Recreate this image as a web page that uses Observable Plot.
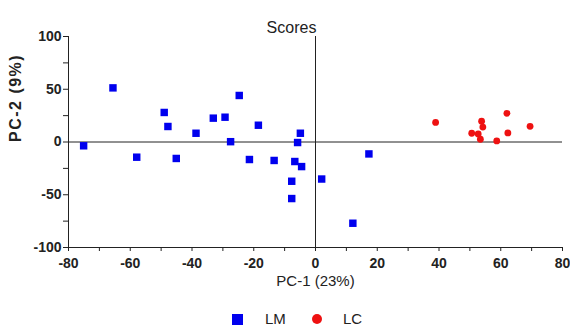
<!DOCTYPE html>
<html>
<head>
<meta charset="utf-8">
<script src="https://cdn.jsdelivr.net/npm/d3@7"></script>
<script src="https://cdn.jsdelivr.net/npm/@observablehq/plot@0.6"></script>
<style>
  html, body { margin: 0; padding: 0; background: #fff; }
  body { width: 570px; height: 327px; overflow: hidden; font-family: "Liberation Sans", Arial, sans-serif; }
  #legend { position: relative; height: 31px; width: 570px; }
  #legend .sym { position: absolute; }
  #legend .lab { position: absolute; font-size: 15px; color: #222; line-height: 16px; }
</style>
</head>
<body>
<div id="chart"></div>
<div id="legend"></div>
<script>
// ---- data ----
const groups = ["LM", "LC"];
const groupColors = ["#0000ee", "#ee1111"];

const lmX = [-75.1, -65.6, -57.9, -49.0, -47.8, -45.1, -38.7, -33.1, -29.3, -27.5, -24.7, -21.4, -18.5, -13.4, -7.7, -7.7, -6.7, -5.8, -4.9, -4.5, 2.0, 12.1, 17.3];
const lmY = [-3.6, 51.3, -14.4, 28.0, 14.7, -15.6, 8.3, 22.6, 23.5, 0.3, 44.1, -16.6, 15.9, -17.5, -37.2, -53.6, -18.5, -0.5, 8.3, -23.3, -35.1, -77.0, -11.3];

const lcX = [38.9, 50.6, 52.7, 53.8, 54.2, 53.4, 58.7, 62.0, 62.3, 69.5];
const lcY = [18.6, 8.3, 7.7, 19.7, 14.1, 2.6, 1.0, 27.2, 8.6, 14.9];

const xDomain = [-80, 80];
const yDomain = [-100, 100];
const xTicks = [-80, -70, -60, -50, -40, -30, -20, -10, 0, 10, 20, 30, 40, 50, 60, 70, 80];
const xTickLabels = [-80, -60, -40, -20, 0, 20, 40, 60, 80];
const yTicks = [-100, -75, -50, -25, 0, 25, 50, 75, 100];
const yTickLabels = [-100, -50, 0, 50, 100];
const zeroLines = [0];

const titleText = "Scores";
const xLabel = "PC-1 (23%)";
const yLabel = "PC-2 (9%)";

// ---- build rows ----
const lm = lmX.map((x, i) => ({x, y: lmY[i], group: groups[0]}));
const lc = lcX.map((x, i) => ({x, y: lcY[i], group: groups[1]}));

const ink = "#222";

const chart = Plot.plot({
  width: 570,
  height: 296,
  marginLeft: 68,
  marginRight: 8,
  marginTop: 36,
  marginBottom: 49,
  style: {fontFamily: "'Liberation Sans', Arial, sans-serif", background: "#fff", color: ink},
  x: {domain: xDomain},
  y: {domain: yDomain},
  marks: [
    Plot.axisX({
      ticks: xTicks, tickSize: 4, tickPadding: 7, label: null,
      tickFormat: d => xTickLabels.includes(d) ? String(d) : "",
      fontSize: 14, fontWeight: "bold", stroke: ink, fill: ink
    }),
    Plot.axisY({
      ticks: yTicks, tickSize: 5, tickPadding: 2, label: null,
      tickFormat: d => yTickLabels.includes(d) ? String(d) : "",
      fontSize: 14, fontWeight: "bold", stroke: ink, fill: ink
    }),
    Plot.ruleX([xDomain[0]], {stroke: ink}),
    Plot.ruleY([yDomain[0]], {stroke: ink}),
    Plot.ruleX(zeroLines, {stroke: ink}),
    Plot.ruleY(zeroLines, {stroke: ink}),
    Plot.dot(lm, {x: "x", y: "y", symbol: "square", r: 4.2, fill: groupColors[0]}),
    Plot.dot(lc, {x: "x", y: "y", symbol: "circle", r: 3.4, fill: groupColors[1]}),
    Plot.text([titleText], {text: d => d, frameAnchor: "top", dy: -15, dx: -24, fontSize: 16, fill: ink}),
    Plot.text([xLabel], {text: d => d, frameAnchor: "bottom", dy: 38, fontSize: 15, fill: ink}),
    Plot.text([yLabel], {text: d => d, frameAnchor: "left", dx: -53, rotate: -90, fontSize: 16, fontWeight: "bold", fill: ink})
  ]
});
d3.select(chart).selectAll("text").filter(function() { return this.textContent === yLabel; })
  .style("letter-spacing", "1.5px");
document.getElementById("chart").appendChild(chart);

// ---- legend (HTML, below the svg) ----
const legend = document.getElementById("legend");
const items = [
  {sym: "square", left: 232, size: 11, label: groups[0], labelLeft: 265, color: groupColors[0]},
  {sym: "circle", left: 312, size: 10, label: groups[1], labelLeft: 343, color: groupColors[1]}
];
items.forEach(it => {
  const s = document.createElement("div");
  s.className = "sym";
  s.style.left = it.left + "px";
  s.style.top = (23 - it.size / 2) + "px";
  s.style.width = it.size + "px";
  s.style.height = it.size + "px";
  s.style.background = it.color;
  if (it.sym === "circle") s.style.borderRadius = "50%";
  legend.appendChild(s);
  const t = document.createElement("div");
  t.className = "lab";
  t.style.left = it.labelLeft + "px";
  t.style.top = "15px";
  t.textContent = it.label;
  legend.appendChild(t);
});
</script>
</body>
</html>
